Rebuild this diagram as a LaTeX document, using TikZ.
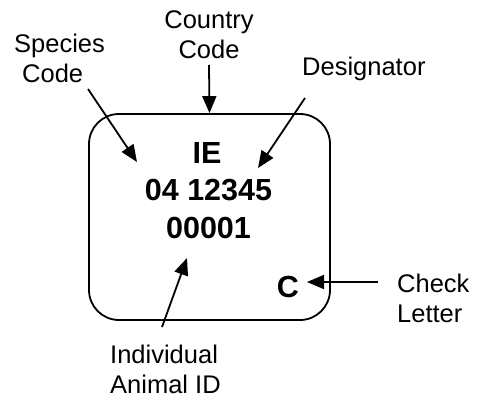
\documentclass[tikz,border=0pt]{standalone}
\usepackage{fontspec}
\setmainfont{Liberation Sans}
\usetikzlibrary{arrows.meta}
\begin{document}
\begin{tikzpicture}[x=1pt,y=-1pt,
  lbl/.style={font=\fontsize{25.5}{30}\selectfont, inner sep=0pt},
  codetxt/.style={font=\fontsize{30.5}{37}\selectfont\bfseries, inner sep=0pt, anchor=base},
  arr/.style={line width=1.8pt, -{Triangle[length=17pt,width=14pt]}},
  tagbox/.style={draw, line width=1.8pt, rounded corners=30pt, minimum width=241pt, minimum height=206pt, inner sep=0pt}
]
\fill[white] (0,0) rectangle (482,404);
\useasboundingbox (0,0) rectangle (482,404);
\node[tagbox] (tag) at (209.5,217) {};
% codes
\node[codetxt] (ie) at (207,163) {IE};
\node[codetxt] (num) at (208.5,200) {04 12345};
\node[codetxt] (ind) at (208.5,238) {00001};
\node[codetxt] (chk) at (288,297) {C};
% labels
\node[lbl, align=center, anchor=base] (country) at (209,59) {Country\\Code};
\node[lbl, align=left, anchor=base west] (species) at (14,82) {Species\\\hspace*{8pt}Code};
\node[lbl, anchor=base west] (desig) at (302,75) {Designator};
\node[lbl, align=left, anchor=base west] (check) at (397,322) {Check\\Letter};
\node[lbl, align=left, anchor=base west] (animal) at (110,393) {Individual\\Animal ID};
% connector ends
\coordinate (cs) at (209,65);
\coordinate (ss) at (88,89);
\coordinate (st) at (137,162);
\coordinate (ds) at (305,98);
\coordinate (dt) at (258,168);
\coordinate (is) at (162,327);
\coordinate (it) at (187,258);
\coordinate (ks) at (378,282);
\coordinate (kt) at (307,282);
\draw[arr] (cs) -- (tag.north);
\draw[arr] (ss) -- (st);
\draw[arr] (ds) -- (dt);
\draw[arr] (is) -- (it);
\draw[arr] (ks) -- (kt);
\end{tikzpicture}
\end{document}
